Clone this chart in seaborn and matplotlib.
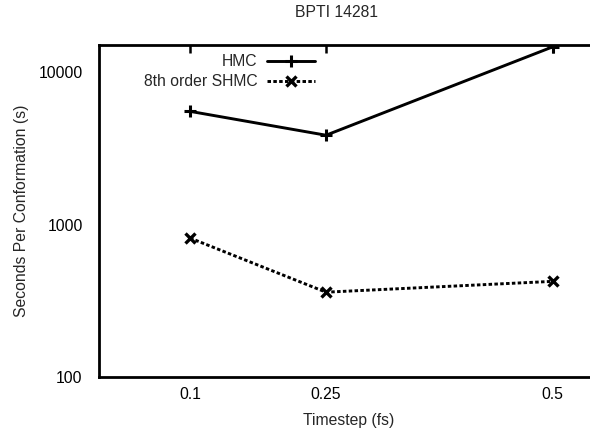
import matplotlib
matplotlib.use("Agg")
import matplotlib.pyplot as plt
import matplotlib.ticker as mticker
import seaborn as sns
import pandas as pd

# ---- Data ----
timesteps = [0.1, 0.25, 0.5]
hmc_seconds = [5520, 3850, 14600]
shmc_seconds = [817, 361, 425]
series_names = ["HMC", "8th order SHMC"]
y_ticks = [100, 1000, 10000]
y_tick_labels = ["100", "1000", "10000"]

sns.set_theme(style="white")
plt.rcParams['font.family'] = ['Liberation Sans', 'DejaVu Sans']
fs = 11.3

fig = plt.figure(figsize=(5.9, 4.29), dpi=100)
ax = fig.add_axes([0.1683, 0.1205, 0.8453, 0.7745])

hmc_df = pd.DataFrame({"timestep": timesteps, "seconds": hmc_seconds})
shmc_df = pd.DataFrame({"timestep": timesteps, "seconds": shmc_seconds})

sns.lineplot(data=hmc_df, x="timestep", y="seconds", ax=ax, color="black",
             linewidth=2.1, marker="+", markersize=8, markeredgewidth=2.2,
             markeredgecolor="black", label=series_names[0], sort=False)
sns.lineplot(data=shmc_df, x="timestep", y="seconds", ax=ax, color="black",
             linewidth=2.1, linestyle=(0, (1.2, 0.8)), marker="x", markersize=7,
             markeredgewidth=2.4, markeredgecolor="black",
             label=series_names[1], sort=False)

ax.set_yscale("log")
ax.set_xlim(0, 0.55)
ax.set_ylim(100, 15000)
ax.set_xticks(timesteps)
ax.set_xticklabels([f"{t:g}" for t in timesteps])
ax.set_yticks(y_ticks)
ax.set_yticklabels(y_tick_labels)
ax.yaxis.set_minor_locator(mticker.LogLocator(base=10, subs=range(2, 10)))
ax.yaxis.set_minor_formatter(mticker.NullFormatter())

ax.tick_params(which="both", direction="in", top=True, right=True,
               color="black", labelcolor="black", labelsize=fs)
ax.tick_params(which="major", length=6, width=1.8)
ax.tick_params(axis="y", which="major", pad=12)
ax.tick_params(axis="x", which="major", pad=7)
ax.tick_params(which="minor", length=3, width=1.5)
ax.tick_params(axis="x", which="minor", top=False, bottom=False)

for s in ax.spines.values():
    s.set_color("black")
    s.set_linewidth(2.0)

ax.set_xlabel("Timestep (fs)", fontsize=fs, labelpad=8)
ax.set_ylabel("Seconds Per Conformation (s)", fontsize=fs, labelpad=7)
ax.set_title("BPTI 14281", fontsize=fs, pad=20, x=0.475)

leg = ax.legend(loc="upper right", bbox_to_anchor=(0.433, 0.972), frameon=False,
                markerfirst=False, handlelength=3.1, handletextpad=0.6,
                borderaxespad=0, borderpad=0, labelspacing=0.32, fontsize=fs)

fig.savefig("out.png", dpi=100)
